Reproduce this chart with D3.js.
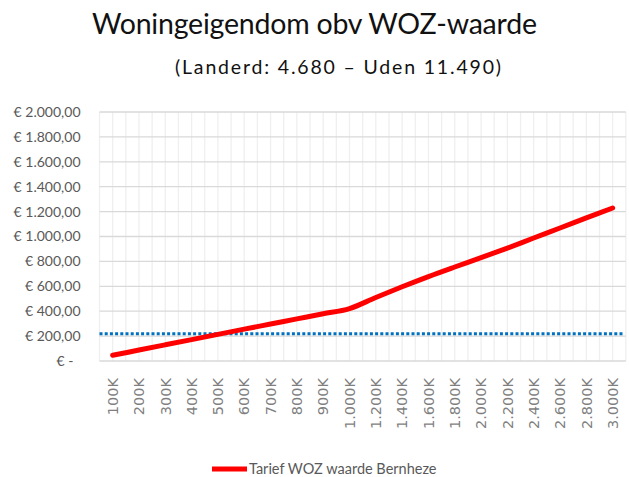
<!DOCTYPE html>
<html>
<head>
<meta charset="utf-8">
<script src="https://cdn.jsdelivr.net/npm/d3@7"></script>
<style>
  body { margin: 0; background: #fff; }
  svg { display: block; }
</style>
</head>
<body>
<svg class="chart"></svg>
<script>
var categorieen = ["100K", "200K", "300K", "400K", "500K", "600K", "700K", "800K", "900K", "1.000K",
                   "1.200K", "1.400K", "1.600K", "1.800K", "2.000K", "2.200K", "2.400K", "2.600K", "2.800K", "3.000K"];

var tariefBernheze = [46, 88, 130, 172, 214, 256, 297, 338, 379, 421,
                      510, 596, 678, 755, 830, 907, 988, 1068, 1149, 1229];

var referentieTarief = 218; // blauwe stippellijn

var yTickWaarden = [0, 200, 400, 600, 800, 1000, 1200, 1400, 1600, 1800, 2000];

var titel = "Woningeigendom obv WOZ-waarde";
var subtitel = "(Landerd: 4.680 \u2013 Uden 11.490)";
var legendaLabel = "Tarief WOZ waarde Bernheze";

var drawChart = function()
{
  var screen = { //the size of svg
    width: 629,
    height: 477
  }

  var plot = {
    left: 99.5,
    right: 625.8,
    top: 112,
    bottom: 361
  }

  var svg = d3.select(".chart")
              .attr("width", screen.width)
              .attr("height", screen.height);

  var xScale = d3.scaleBand()
                 .domain(categorieen)
                 .range([plot.left, plot.right]);

  var yScale = d3.scaleLinear()
                 .domain([0, 2000])
                 .range([plot.bottom, plot.top]);

  var bw = xScale.bandwidth();

  var locale = d3.formatLocale({
    decimal: ",",
    thousands: ".",
    grouping: [3],
    currency: ["\u20ac ", ""]
  });
  var euro = locale.format("$,.2f");

  //titles
  svg.append("text")
     .attr("x", 314.5)
     .attr("y", 34)
     .attr("text-anchor", "middle")
     .attr("textLength", 445)
     .attr("lengthAdjust", "spacing")
     .style("font-family", "Lato, sans-serif")
     .style("font-size", "28.5px")
     .style("fill", "#111")
     .text(titel);

  svg.append("text")
     .attr("x", 338)
     .attr("y", 74)
     .attr("text-anchor", "middle")
     .attr("textLength", 326)
     .attr("lengthAdjust", "spacing")
     .style("font-family", "Lato, sans-serif")
     .style("font-size", "19.5px")
     .style("fill", "#111")
     .text(subtitel);

  //vertical gridlines (band edges and centres)
  var vLijnen = [];
  categorieen.forEach(function(c) {
    vLijnen.push(xScale(c));
    vLijnen.push(xScale(c) + bw / 2);
  });
  vLijnen.push(xScale.range()[1]);

  svg.append("g")
     .classed("vGrid", true)
     .selectAll("line")
     .data(vLijnen)
     .enter()
     .append("line")
     .attr("x1", function(d) {return d;})
     .attr("x2", function(d) {return d;})
     .attr("y1", plot.top)
     .attr("y2", plot.bottom)
     .attr("stroke", "#efefef")
     .attr("stroke-width", 1.3);

  //horizontal gridlines
  svg.append("g")
     .classed("hGrid", true)
     .selectAll("line")
     .data(yTickWaarden)
     .enter()
     .append("line")
     .attr("x1", plot.left)
     .attr("x2", plot.right)
     .attr("y1", function(d) {return yScale(d);})
     .attr("y2", function(d) {return yScale(d);})
     .attr("stroke", "#d9d9d9")
     .attr("stroke-width", 1.3);

  //y-axis
  var yAxis = d3.axisLeft(yScale)
                .tickValues(yTickWaarden)
                .tickSize(0)
                .tickPadding(19)
                .tickFormat(function(d) {
                  if (d == 0) { return "\u20ac -\u00a0\u00a0"; }
                  return euro(d);
                });

  var gy = svg.append("g")
              .classed("yAxis", true)
              .attr("transform", "translate(" + plot.left + ",0)")
              .call(yAxis);
  gy.select(".domain").remove();
  gy.selectAll("text")
    .style("font-family", "Lato, sans-serif")
    .style("font-size", "14px")
    .style("fill", "#595959");

  //x-axis
  var xAxis = d3.axisBottom(xScale).tickSize(0);

  var gx = svg.append("g")
              .classed("xAxis", true)
              .attr("transform", "translate(0," + plot.bottom + ")")
              .call(xAxis);
  gx.select(".domain").remove();
  gx.selectAll("text")
    .attr("transform", "rotate(-90)")
    .attr("x", -17)
    .attr("y", 0)
    .attr("dy", "0.36em")
    .style("text-anchor", "end")
    .style("font-family", "'DejaVu Sans', sans-serif")
    .style("font-size", "14.5px")
    .style("fill", "#7f7f7f");

  //reference line
  svg.append("line")
     .classed("referentie", true)
     .attr("x1", plot.left)
     .attr("x2", plot.right - 2)
     .attr("y1", yScale(referentieTarief))
     .attr("y2", yScale(referentieTarief))
     .attr("stroke", "#0070c0")
     .attr("stroke-width", 3)
     .attr("stroke-dasharray", "3,2.2");

  //tarief line
  var lijn = d3.line()
               .x(function(d, i) {return xScale(categorieen[i]) + bw / 2;})
               .y(function(d) {return yScale(d);})
               .curve(d3.curveCardinal.tension(0));

  svg.append("path")
     .datum(tariefBernheze)
     .attr("d", lijn)
     .attr("fill", "none")
     .attr("stroke", "#ff0000")
     .attr("stroke-width", 5)
     .attr("stroke-linecap", "round")
     .attr("stroke-linejoin", "round");

  //legend
  var legenda = svg.append("g")
                   .classed("legend", true)
                   .attr("transform", "translate(212,469)");

  legenda.append("line")
         .attr("x1", 0)
         .attr("x2", 35)
         .attr("y1", 0)
         .attr("y2", 0)
         .attr("stroke", "#ff0000")
         .attr("stroke-width", 5);

  legenda.append("text")
         .attr("x", 37)
         .attr("y", 0)
         .attr("dy", "0.35em")
         .style("font-family", "Lato, sans-serif")
         .style("font-size", "14.5px")
         .style("fill", "#595959")
         .text(legendaLabel);
}

drawChart();
</script>
</body>
</html>
